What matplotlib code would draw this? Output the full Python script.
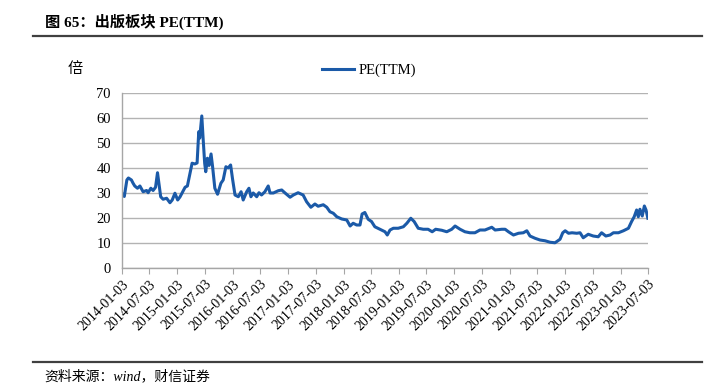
import numpy as np
import pandas as pd
import matplotlib
matplotlib.use("Agg")
import matplotlib.pyplot as plt
import matplotlib.dates as mdates
from matplotlib.lines import Line2D

# PE(TTM) of the publishing sector
dates = [
    '2014-01-03', '2014-01-18', '2014-02-04', '2014-02-14', '2014-03-06', '2014-03-17',
    '2014-03-28', '2014-04-15', '2014-05-01', '2014-05-22', '2014-06-14', '2014-06-24',
    '2014-07-12', '2014-07-27', '2014-08-12', '2014-08-25', '2014-09-03', '2014-09-15',
    '2014-10-01', '2014-10-24', '2014-11-15', '2014-11-30', '2014-12-18', '2015-01-05',
    '2015-01-20', '2015-02-23', '2015-03-10', '2015-03-25', '2015-04-10', '2015-04-28',
    '2015-05-13', '2015-05-24', '2015-05-30', '2015-06-13', '2015-06-21', '2015-07-02',
    '2015-07-09', '2015-07-20', '2015-07-31', '2015-08-13', '2015-08-23', '2015-09-07',
    '2015-09-25', '2015-10-17', '2015-11-01', '2015-11-19', '2015-12-04', '2015-12-20',
    '2016-01-02', '2016-01-18', '2016-02-09', '2016-02-27', '2016-03-12', '2016-04-04',
    '2016-04-19', '2016-05-02', '2016-05-17', '2016-06-09', '2016-06-24', '2016-07-11',
    '2016-08-02', '2016-08-24', '2016-09-05', '2016-09-27', '2016-10-29', '2016-11-21',
    '2016-12-13', '2017-01-15', '2017-02-06', '2017-03-09', '2017-04-11', '2017-05-04',
    '2017-06-01', '2017-06-28', '2017-07-19', '2017-08-22', '2017-09-14', '2017-10-05',
    '2017-10-27', '2017-11-19', '2017-12-22', '2018-01-24', '2018-02-15', '2018-03-07',
    '2018-03-30', '2018-04-21', '2018-05-05', '2018-05-23', '2018-06-14', '2018-07-06',
    '2018-07-28', '2018-08-31', '2018-10-03', '2018-10-18', '2018-11-05', '2018-11-27',
    '2018-12-29', '2019-02-01', '2019-02-24', '2019-03-22', '2019-04-13', '2019-05-10',
    '2019-06-12', '2019-07-14', '2019-08-10', '2019-09-02', '2019-10-12', '2019-11-14',
    '2019-12-17', '2020-01-08', '2020-02-10', '2020-03-13', '2020-04-15', '2020-05-18',
    '2020-06-20', '2020-07-23', '2020-09-06', '2020-09-28', '2020-11-11', '2020-12-03',
    '2020-12-25', '2021-01-27', '2021-03-01', '2021-04-02', '2021-04-25', '2021-05-16',
    '2021-06-18', '2021-07-21', '2021-08-23', '2021-09-26', '2021-10-28', '2021-11-30',
    '2021-12-18', '2022-01-03', '2022-01-25', '2022-02-17', '2022-03-20', '2022-04-11',
    '2022-05-02', '2022-06-04', '2022-07-07', '2022-08-09', '2022-08-31', '2022-09-28',
    '2022-10-26', '2022-11-17', '2022-12-20', '2023-01-22', '2023-02-24', '2023-03-17',
    '2023-04-03', '2023-04-19', '2023-04-30', '2023-05-11', '2023-05-26', '2023-06-09',
    '2023-06-20', '2023-07-02',
]
pe_ttm = [
    29.8, 28.6, 35.2, 36.0, 35.2, 33.9,
    32.8, 31.9, 32.8, 30.5, 31.0, 30.1,
    31.9, 31.0, 32.3, 38.1, 33.9, 28.5,
    27.5, 27.9, 26.1, 27.2, 29.9, 27.2,
    28.4, 32.3, 32.8, 37.2, 41.9, 41.6,
    42.0, 54.5, 51.9, 60.8, 52.5, 41.9,
    38.5, 43.9, 41.0, 45.6, 40.6, 31.9,
    29.5, 33.9, 35.2, 40.5, 40.0, 41.2,
    35.5, 29.2, 28.5, 30.5, 27.2, 30.5,
    31.9, 28.5, 30.0, 28.5, 30.1, 29.2,
    30.5, 32.8, 30.0, 30.0, 30.9, 31.2,
    30.0, 28.3, 29.2, 30.1, 29.2, 26.5,
    24.3, 25.6, 24.7, 25.3, 24.3, 22.5,
    21.9, 20.5, 19.6, 19.2, 16.8, 17.9,
    17.2, 17.2, 21.6, 22.2, 19.5, 18.6,
    16.5, 15.5, 14.5, 13.2, 15.2, 15.9,
    15.9, 16.5, 17.9, 19.9, 18.6, 15.9,
    15.5, 15.5, 14.5, 15.5, 15.1, 14.5,
    15.5, 16.8, 15.5, 14.5, 14.1, 14.1,
    15.2, 15.2, 16.3, 15.2, 15.5, 15.5,
    14.5, 13.2, 13.9, 14.1, 14.9, 12.8,
    11.9, 11.2, 10.9, 10.3, 10.1, 11.5,
    14.1, 14.9, 13.9, 14.1, 13.9, 14.1,
    12.1, 13.5, 12.8, 12.5, 14.1, 12.8,
    13.2, 14.1, 14.1, 14.9, 15.9, 18.6,
    20.5, 23.2, 20.5, 23.5, 20.8, 24.8,
    23.2, 19.9,
]
tick_labels = ['%d-%s-03' % (y, m) for y in range(2014, 2024) for m in ('01', '07')]
y_ticks = [0, 10, 20, 30, 40, 50, 60, 70]

serif = ['Liberation Serif', 'Noto Sans CJK SC', 'DejaVu Sans']
plt.rcParams['font.family'] = serif

x = pd.to_datetime(dates)
tick_pos = pd.to_datetime(tick_labels)

fig = plt.figure(figsize=(7.22, 3.84), dpi=100)
ax = fig.add_axes([0.169, 0.302, 0.7285, 0.456])

line, = ax.plot(x, pe_ttm, color='#1b5aa8', lw=2.2, label='PE(TTM)')

ax.set_ylim(0, 70)
ax.set_yticks(y_ticks)
ax.set_xlim(tick_pos[0], tick_pos[-1])
ax.set_xticks(tick_pos)
ax.set_xticklabels(tick_labels, rotation=45, ha='right', rotation_mode='anchor', fontsize=10)
ax.tick_params(axis='x', length=4, width=0.8, color='#a6a6a6', pad=3)
ax.tick_params(axis='y', length=0, pad=8, labelsize=10.5)
ax.grid(axis='y', color='#b3b3b3', lw=1.0)
for s in ('top', 'right'):
    ax.spines[s].set_visible(False)
for s in ('left', 'bottom'):
    ax.spines[s].set_color('#a6a6a6')
    ax.spines[s].set_linewidth(1.0)

fig.text(0.094, 0.822, '倍', fontsize=11, family=['Noto Sans CJK SC'], va='center')
ax.legend(handles=[line], loc='center', bbox_to_anchor=(0.469, 1.13), frameon=False,
          fontsize=10.5, handlelength=2.2, handletextpad=0.3)

fig.text(0.062, 0.942, '图 65：出版板块 PE(TTM)', fontsize=11, weight='bold', va='center')
fig.add_artist(Line2D([0.046, 0.972], [0.906, 0.906], color='#404040', lw=1.6))
fig.add_artist(Line2D([0.046, 0.972], [0.057, 0.057], color='#404040', lw=1.6))
fig.text(0.062, 0.021, '资料来源：wind，财信证券', fontsize=10, style='italic', va='center',
         family=['Liberation Serif', 'Noto Sans CJK SC'])

fig.savefig('out.png', dpi=100)
